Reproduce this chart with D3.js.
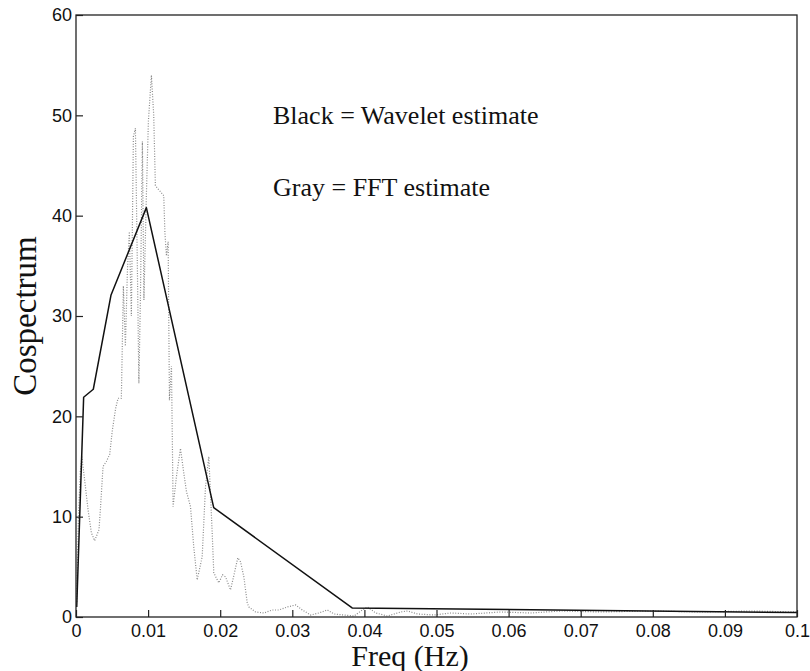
<!DOCTYPE html>
<html>
<head>
<meta charset="utf-8">
<script src="https://cdn.jsdelivr.net/npm/d3@7"></script>
<style>
  html, body { margin: 0; padding: 0; background: #fff; }
  svg { display: block; }
</style>
</head>
<body>
<script>
// ---- data ----
const xTicks = [0, 0.01, 0.02, 0.03, 0.04, 0.05, 0.06, 0.07, 0.08, 0.09, 0.1];
const xTickLabels = ["0", "0.01", "0.02", "0.03", "0.04", "0.05", "0.06", "0.07", "0.08", "0.09", "0.1"];
const yTicks = [0, 10, 20, 30, 40, 50, 60];

// Wavelet estimate (black)
const waveletFreq  = [0.0001, 0.00106, 0.0024, 0.00486, 0.00976, 0.0191, 0.0383, 0.1];
const waveletValue = [1.0, 21.9, 22.7, 32.1, 40.8, 10.9, 0.9, 0.45];

// FFT estimate (gray)
const fftFreq = [0.00011, 0.00032, 0.00060, 0.00081, 0.00119, 0.00167, 0.00213, 0.00258, 0.00319, 0.00338,
  0.00375, 0.00421, 0.00467, 0.00504, 0.00550, 0.00583, 0.00629, 0.00657, 0.00685, 0.00713,
  0.00740, 0.00768, 0.00796, 0.00824, 0.00851, 0.00872, 0.00893, 0.00921, 0.00942, 0.00976,
  0.01004, 0.01046, 0.01078, 0.01101, 0.01133, 0.01171, 0.01217, 0.01233, 0.01254, 0.01278,
  0.01296, 0.01324, 0.01347, 0.01393, 0.01449, 0.01494, 0.01532, 0.01588, 0.01633, 0.01681,
  0.01750, 0.01796, 0.01842, 0.01889, 0.01911, 0.01981, 0.02032, 0.02074, 0.02143, 0.02185,
  0.02244, 0.02282, 0.02328, 0.02375, 0.02397, 0.02490, 0.02606, 0.02722, 0.02814, 0.02931,
  0.03046, 0.03139, 0.03254, 0.03369, 0.03486, 0.03578, 0.03717, 0.03856, 0.03972, 0.04042,
  0.04157, 0.04319, 0.04504, 0.04597, 0.04736, 0.04963, 0.05199, 0.05476, 0.05893, 0.06310,
  0.06726, 0.07282, 0.07976, 0.08671, 0.09365, 0.1];
const fftValue = [1.5, 9.5, 14.5, 16, 13.7, 10.7, 8.4, 7.6, 8.7, 10.7,
  15, 15.5, 16.2, 18.6, 20.8, 21.8, 21.8, 33, 27, 34.5,
  38.4, 30, 47.9, 48.7, 35, 23.3, 31.6, 47.4, 31.6, 42,
  49.4, 54, 50, 43, 42.7, 42.4, 42, 38.3, 36, 37.4,
  21.6, 25, 11, 14, 16.8, 14.4, 12.5, 11, 7, 3.7,
  6, 13, 16, 8.4, 4.4, 3.4, 4.2, 4, 2.7, 4,
  5.9, 5.5, 4, 1.4, 1.0, 0.5, 0.4, 0.7, 0.7, 1.0,
  1.2, 0.7, 0.2, 0.4, 0.7, 0.3, 0.2, 0.1, 0.7, 1.0,
  0.4, 0.1, 0.5, 0.6, 0.3, 0.2, 0.4, 0.3, 0.5, 0.4,
  0.6, 0.5, 0.6, 0.5, 0.6, 0.5];

const legendLines = ["Black = Wavelet estimate", "Gray = FFT estimate"];
const xLabel = "Freq (Hz)";
const yLabel = "Cospectrum";

// ---- layout ----
const W = 810, H = 671;
const m = { left: 76, right: 13, top: 15, bottom: 54 };
const pw = W - m.left - m.right, ph = H - m.top - m.bottom;

const svg = d3.select("body").append("svg").attr("width", W).attr("height", H);
const g = svg.append("g").attr("transform", `translate(${m.left},${m.top})`);

const x = d3.scaleLinear().domain([0, 0.1]).range([0, pw]);
const y = d3.scaleLinear().domain([0, 60]).range([ph, 0]);

// gray FFT line (dotted)
const fftData = fftFreq.map((f, i) => [f, fftValue[i]]);
const line = d3.line().x(d => x(d[0])).y(d => y(d[1]));
g.append("path").datum(fftData)
  .attr("d", line)
  .attr("fill", "none")
  .attr("stroke", "#8a8a8a")
  .attr("stroke-width", 1.2)
  .attr("stroke-dasharray", "1,1.6");

// black wavelet line
const wavData = waveletFreq.map((f, i) => [f, waveletValue[i]]);
g.append("path").datum(wavData)
  .attr("d", line)
  .attr("fill", "none")
  .attr("stroke", "#111")
  .attr("stroke-width", 1.5)
  .attr("stroke-linejoin", "round");

// axes
const tickFont = "'Liberation Sans', Arial, Helvetica, sans-serif";
const xAxis = d3.axisBottom(x).tickValues(xTicks)
  .tickFormat((d, i) => xTickLabels[i]).tickSizeInner(-7).tickSizeOuter(0).tickPadding(7);
const yAxis = d3.axisLeft(y).tickValues(yTicks)
  .tickFormat(d3.format("d")).tickSizeInner(-7).tickSizeOuter(0).tickPadding(4);

const gx = g.append("g").attr("transform", `translate(0,${ph})`).call(xAxis);
const gy = g.append("g").call(yAxis);
[gx, gy].forEach(a => {
  a.select(".domain").remove();
  a.selectAll("line").attr("stroke", "#222").attr("stroke-width", 1.2);
  a.selectAll("text").attr("font-family", tickFont).attr("font-size", 18).attr("fill", "#111");
});

// frame
g.append("rect").attr("x", 0).attr("y", 0).attr("width", pw).attr("height", ph)
  .attr("fill", "none").attr("stroke", "#222").attr("stroke-width", 1.3);

// legend text
const serif = "'Liberation Serif', 'Times New Roman', Times, serif";
svg.append("text").attr("x", 273).attr("y", 124).text(legendLines[0])
  .attr("font-family", serif).attr("font-size", 26).attr("fill", "#111");
svg.append("text").attr("x", 273).attr("y", 196).text(legendLines[1])
  .attr("font-family", serif).attr("font-size", 26).attr("fill", "#111");

// axis labels
svg.append("text").attr("x", 410).attr("y", 666).attr("text-anchor", "middle")
  .attr("font-family", serif).attr("font-size", 30).attr("fill", "#111").text(xLabel);
svg.append("text").attr("transform", "translate(36,316) rotate(-90)").attr("text-anchor", "middle")
  .attr("font-family", serif).attr("font-size", 33).attr("fill", "#111").text(yLabel);
</script>
</body>
</html>
